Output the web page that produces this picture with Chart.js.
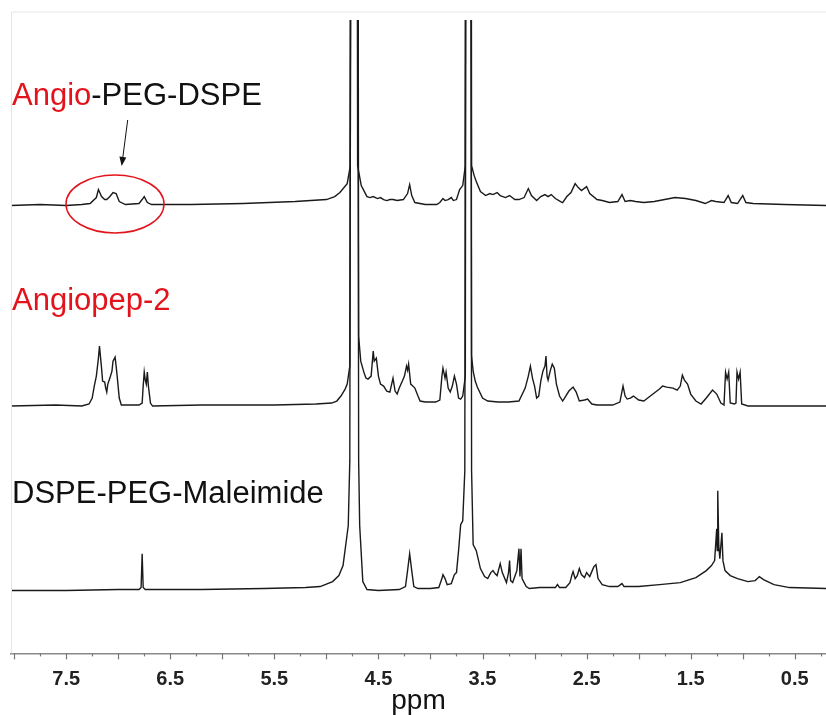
<!DOCTYPE html>
<html>
<head>
<meta charset="utf-8">
<script src="https://cdn.jsdelivr.net/npm/chart.js@4.4.1/dist/chart.umd.min.js"></script>
<style>
  html, body { margin: 0; padding: 0; background: #fff; }
  #wrap { width: 826px; height: 715px; }
</style>
</head>
<body>
<div id="wrap"><canvas id="nmr" width="826" height="715"></canvas></div>
<script>
// 1H NMR spectra, ppm vs. intensity (arbitrary units, peaks at 3000 run off the top)
const seriesNames = ['Angio-PEG-DSPE', 'Angiopep-2', 'DSPE-PEG-Maleimide'];

const angioPegDspe = [
  [8.03,0],[7.75,1],[7.5,0],[7.35,1],[7.27,2],[7.21,8],[7.19,16],[7.16,9],[7.13,6],[7.11,6],
  [7.08,9],[7.05,13],[7.02,12],[6.99,4],[6.93,1],[6.80,2],[6.77,6],[6.75,9],[6.72,3],[6.68,1],
  [6.3,1],[5.8,2],[5.3,4],[5.0,6],[4.92,9],[4.87,13],[4.80,22],[4.77,40],[4.735,3000],[4.70,40],
  [4.665,20],[4.63,13],[4.61,9],[4.58,8],[4.55,9],[4.51,7],[4.48,8],[4.45,6],[4.42,5],[4.39,6],
  [4.36,6],[4.32,5],[4.26,6],[4.22,12],[4.20,21],[4.18,10],[4.15,3],[4.05,1],[3.94,1],[3.91,3],
  [3.88,7],[3.86,5],[3.83,6],[3.80,8],[3.78,5],[3.75,6],[3.72,16],[3.69,20],[3.665,40],[3.635,3000],
  [3.605,40],[3.58,30],[3.56,24],[3.52,14],[3.47,10],[3.43,12],[3.40,11],[3.36,13],[3.33,10],[3.28,8],
  [3.24,10],[3.19,6],[3.15,6],[3.10,8],[3.06,17],[3.03,10],[2.98,5],[2.94,9],[2.90,11],[2.87,9],
  [2.84,11],[2.80,7],[2.75,4],[2.73,3],[2.69,9],[2.65,13],[2.61,22],[2.58,18],[2.55,15],[2.50,19],
  [2.47,12],[2.40,6],[2.35,5],[2.28,3],[2.20,4],[2.16,11],[2.13,4],[2.08,5],[2.03,4],[1.95,3],
  [1.85,4],[1.75,6],[1.65,8],[1.55,7],[1.45,5],[1.36,2],[1.30,5],[1.26,4],[1.18,3],[1.14,10],
  [1.11,3],[1.05,2],[1.00,10],[0.97,3],[0.90,2],[0.6,1],[0.2,0]
];

const angiopep2 = [
  [8.03,0],[7.6,1],[7.35,0],[7.28,2],[7.25,8],[7.23,20],[7.21,30],[7.19,48],[7.18,60],[7.16,38],
  [7.15,25],[7.13,24],[7.12,18],[7.11,14],[7.10,22],[7.08,28],[7.06,35],[7.05,45],[7.03,49],[7.02,40],
  [7.01,30],[6.99,8],[6.97,1],[6.80,1],[6.77,3],[6.76,20],[6.75,34],[6.74,26],[6.73,22],[6.72,34],
  [6.71,20],[6.69,3],[6.67,0],[6.2,1],[5.5,1],[5.1,2],[4.95,3],[4.90,5],[4.86,10],[4.82,17],
  [4.80,22],[4.775,40],[4.725,3000],[4.69,70],[4.67,45],[4.64,34],[4.62,28],[4.60,27],[4.57,30],[4.55,55],
  [4.54,45],[4.52,48],[4.50,30],[4.48,22],[4.45,20],[4.42,15],[4.39,14],[4.36,28],[4.34,15],[4.32,12],
  [4.30,18],[4.27,25],[4.25,30],[4.23,40],[4.22,36],[4.21,42],[4.19,22],[4.17,20],[4.15,18],[4.12,10],
  [4.10,5],[4.05,4],[3.95,4],[3.91,6],[3.89,30],[3.88,38],[3.86,28],[3.85,34],[3.83,18],[3.81,14],
  [3.79,20],[3.77,30],[3.75,22],[3.73,8],[3.71,7],[3.69,10],[3.665,30],[3.635,3000],[3.605,50],[3.59,35],
  [3.57,25],[3.55,19],[3.50,8],[3.45,5],[3.35,4],[3.25,4],[3.15,5],[3.09,18],[3.06,30],[3.04,40],
  [3.02,28],[3.00,20],[2.98,8],[2.96,10],[2.94,25],[2.92,35],[2.90,40],[2.89,50],[2.88,30],[2.87,26],
  [2.85,35],[2.83,42],[2.81,38],[2.79,22],[2.76,10],[2.73,5],[2.70,10],[2.67,15],[2.63,19],[2.60,14],
  [2.57,5],[2.52,6],[2.49,7],[2.45,2],[2.40,1],[2.25,1],[2.18,4],[2.15,20],[2.13,10],[2.11,7],
  [2.08,8],[2.05,10],[2.00,6],[1.95,5],[1.90,9],[1.85,13],[1.80,17],[1.77,20],[1.73,19],[1.67,18],
  [1.63,16],[1.60,20],[1.58,31],[1.56,26],[1.53,22],[1.50,12],[1.45,5],[1.40,2],[1.35,8],[1.29,16],
  [1.25,12],[1.21,3],[1.18,1],[1.165,34],[1.15,27],[1.135,34],[1.12,3],[1.08,2],[1.065,3],[1.055,34],
  [1.04,27],[1.025,34],[1.01,2],[0.95,0],[0.2,0]
];

const dspePegMal = [
  [8.03,0],[7.5,0],[7.0,1],[6.80,1],[6.78,3],[6.77,37],[6.76,3],[6.74,1],[6.2,1],[5.6,2],
  [5.2,3],[5.06,4],[4.94,9],[4.88,15],[4.84,25],[4.79,65],[4.775,130],[4.73,3000],[4.69,130],[4.68,65],
  [4.65,9],[4.61,1],[4.50,0],[4.30,1],[4.24,4],[4.22,20],[4.20,37],[4.18,20],[4.16,4],[4.12,2],
  [4.00,2],[3.92,3],[3.89,12],[3.88,16],[3.86,12],[3.84,6],[3.80,7],[3.77,16],[3.75,18],[3.73,40],
  [3.71,66],[3.69,70],[3.67,120],[3.635,3000],[3.605,120],[3.59,46],[3.56,40],[3.52,22],[3.48,14],[3.45,12],
  [3.42,18],[3.40,20],[3.38,17],[3.36,15],[3.33,27],[3.31,18],[3.27,8],[3.25,18],[3.24,30],[3.23,10],
  [3.21,8],[3.19,14],[3.17,20],[3.15,42],[3.14,14],[3.13,42],[3.12,12],[3.10,8],[3.08,4],[3.05,2],
  [2.95,3],[2.80,3],[2.78,6],[2.76,3],[2.70,3],[2.66,8],[2.64,16],[2.63,19],[2.61,12],[2.59,15],
  [2.57,22],[2.55,16],[2.52,13],[2.50,18],[2.47,14],[2.45,19],[2.43,24],[2.41,26],[2.39,12],[2.35,6],
  [2.28,4],[2.20,4],[2.16,7],[2.14,4],[2.0,4],[1.8,6],[1.6,8],[1.45,13],[1.35,20],[1.30,25],
  [1.27,30],[1.25,62],[1.245,40],[1.24,100],[1.23,45],[1.22,32],[1.20,58],[1.19,30],[1.17,20],[1.12,15],
  [1.05,12],[0.95,9],[0.88,10],[0.84,14],[0.80,11],[0.70,6],[0.55,3],[0.2,2]
];

const spectra = [angioPegDspe, angiopep2, dspePegMal];
const labelColors = [['#e3131b', '#111'], ['#e3131b'], ['#111']];

// x axis ticks every 0.25 ppm, labelled at the half-ppm positions
const tickPpm = [8.0, 7.75, 7.5, 7.25, 7.0, 6.75, 6.5, 6.25, 6.0, 5.75, 5.5, 5.25, 5.0, 4.75, 4.5, 4.25,
  4.0, 3.75, 3.5, 3.25, 3.0, 2.75, 2.5, 2.25, 2.0, 1.75, 1.5, 1.25, 1.0, 0.75, 0.5, 0.25];
const tickLabels = ['7.5', '6.5', '5.5', '4.5', '3.5', '2.5', '1.5', '0.5'];

// vertical stacking of the three traces (top to bottom)
const traceOffset = [449, 248, 63];

const FONT = '"Liberation Sans", Arial, Helvetica, sans-serif';

const datasets = spectra.map((s, i) => ({
  label: seriesNames[i],
  data: s.map(p => ({ x: p[0], y: p[1] + traceOffset[i] })),
  borderColor: '#1a1a1a',
  borderWidth: 1.4,
  pointRadius: 0,
  tension: 0,
  fill: false
}));

// hand-drawn bits: sample names, arrow and ellipse, ticks, frame
const decor = {
  id: 'decor',
  afterDraw(chart) {
    const ctx = chart.ctx;
    const xs = chart.scales.x;
    const area = chart.chartArea;
    ctx.save();

    // faint frame on the left / top
    ctx.strokeStyle = '#e6e6e6';
    ctx.lineWidth = 1;
    ctx.beginPath();
    ctx.moveTo(area.left + 0.5, area.bottom);
    ctx.lineTo(area.left + 0.5, 12);
    ctx.lineTo(area.right, 12);
    ctx.stroke();

    // tick marks (major every 0.5, minor in between)
    ctx.strokeStyle = '#777';
    ctx.lineWidth = 1.2;
    tickPpm.forEach(v => {
      const px = Math.round(xs.getPixelForValue(v)) + 0.5;
      const len = (Math.round(v * 4) % 2 === 0) ? 6 : 3;
      ctx.beginPath();
      ctx.moveTo(px, area.bottom);
      ctx.lineTo(px, area.bottom + len);
      ctx.stroke();
    });

    // sample names
    ctx.font = '31px ' + FONT;
    ctx.textBaseline = 'alphabetic';
    const names = [['Angio', '-PEG-DSPE'], ['Angiopep-2'], ['DSPE-PEG-Maleimide']];
    const nameY = [105, 310, 503];
    names.forEach((parts, i) => {
      let x = 12;
      parts.forEach((t, j) => {
        ctx.fillStyle = labelColors[i][j];
        ctx.fillText(t, x, nameY[i]);
        x += ctx.measureText(t).width;
      });
    });

    // arrow pointing at the aromatic peaks
    ctx.strokeStyle = '#111';
    ctx.fillStyle = '#111';
    ctx.lineWidth = 1;
    const ax0 = 127.7, ay0 = 120, ax1 = 121.7, ay1 = 166;
    const ang = Math.atan2(ay1 - ay0, ax1 - ax0);
    ctx.beginPath();
    ctx.moveTo(ax0, ay0);
    ctx.lineTo(ax1 - 7 * Math.cos(ang), ay1 - 7 * Math.sin(ang));
    ctx.stroke();
    ctx.beginPath();
    ctx.moveTo(ax1, ay1);
    ctx.lineTo(ax1 - 9 * Math.cos(ang) + 3.5 * Math.sin(ang), ay1 - 9 * Math.sin(ang) - 3.5 * Math.cos(ang));
    ctx.lineTo(ax1 - 9 * Math.cos(ang) - 3.5 * Math.sin(ang), ay1 - 9 * Math.sin(ang) + 3.5 * Math.cos(ang));
    ctx.closePath();
    ctx.fill();

    // red ellipse around them
    ctx.strokeStyle = '#e3131b';
    ctx.lineWidth = 1.5;
    ctx.beginPath();
    ctx.ellipse(115, 204, 49, 29, 0, 0, Math.PI * 2);
    ctx.stroke();

    ctx.restore();
  }
};

new Chart(document.getElementById('nmr'), {
  type: 'line',
  data: { datasets },
  options: {
    responsive: false,
    animation: false,
    devicePixelRatio: 1,
    layout: { padding: { left: 11, top: 20, right: 0, bottom: 0 } },
    plugins: { legend: { display: false }, tooltip: { enabled: false } },
    scales: {
      x: {
        type: 'linear',
        reverse: true,
        min: 0.2,
        max: 8.03,
        afterBuildTicks: scale => { scale.ticks = tickPpm.map(v => ({ value: v })); },
        grid: { drawOnChartArea: false, drawTicks: true, tickLength: 10, tickColor: 'rgba(0,0,0,0)' },
        border: { color: '#8a8a8a', width: 1.5 },
        ticks: {
          autoSkip: false,
          maxRotation: 0,
          padding: 4,
          color: '#222',
          font: { family: FONT, size: 20, weight: 'bold' },
          callback: v => {
            const s = Number(v).toFixed(1);
            return tickLabels.includes(s) && Math.abs(v - Number(s)) < 1e-6 ? s : '';
          }
        },
        title: {
          display: true,
          text: 'ppm',
          color: '#111',
          font: { family: FONT, size: 28 },
          padding: { top: -11, bottom: -3 }
        }
      },
      y: {
        display: false,
        min: 0,
        max: 635
      }
    }
  },
  plugins: [decor]
});
</script>
</body>
</html>
